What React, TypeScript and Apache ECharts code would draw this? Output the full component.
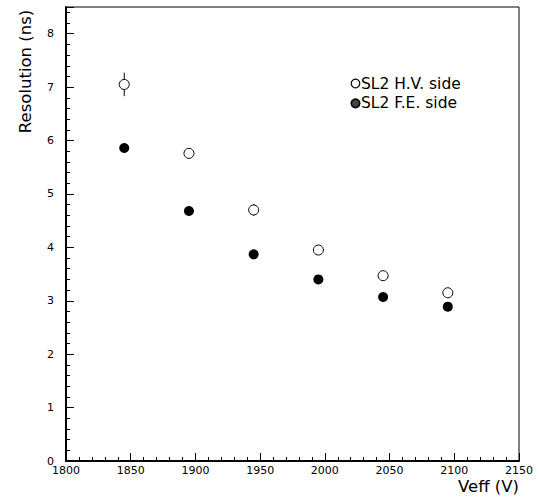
import { useEffect, useRef } from "react";
import * as echarts from "echarts";

// Effective voltage settings (V)
const voltages = [1845, 1895, 1945, 1995, 2045, 2095];
// Time resolution measured on the high-voltage side (ns) and its uncertainty
const hvResolution = [7.05, 5.76, 4.7, 3.95, 3.47, 3.15];
const hvError = [0.22, 0.06, 0.11, 0.06, 0.06, 0.06];
// Time resolution measured on the front-end side (ns)
const feResolution = [5.86, 4.68, 3.87, 3.4, 3.07, 2.89];

const seriesNames = ["SL2 H.V. side", "SL2 F.E. side"];
const xTitle = "Veff (V)";
const yTitle = "Resolution (ns)";

const FONT = "DejaVu Sans";

export default function App() {
  const ref = useRef<HTMLDivElement>(null);

  useEffect(() => {
    if (!ref.current) return;
    const chart = echarts.init(ref.current, undefined, { renderer: "svg" });

    const tickLabel = { color: "#000", fontFamily: FONT, fontSize: 11 };

    chart.setOption({
      animation: false,
      backgroundColor: "#fff",
      grid: {
        left: 66,
        right: 21,
        top: 7,
        bottom: 38,
        show: true,
        borderColor: "#000",
        borderWidth: 1,
      },
      xAxis: {
        type: "value",
        min: 1800,
        max: 2150,
        interval: 50,
        axisLine: { show: true, lineStyle: { color: "#000", width: 2 } },
        axisTick: { show: true, inside: true, length: 8, lineStyle: { color: "#000", width: 1 } },
        minorTick: { show: true, splitNumber: 5, length: 4, lineStyle: { color: "#000", width: 1 } },
        splitLine: { show: false },
        axisLabel: { ...tickLabel, margin: 4, formatter: (v: number) => String(v) },
      },
      yAxis: [
        {
          type: "value",
          min: 0,
          max: 8.5,
          interval: 1,
          axisLine: { show: true, lineStyle: { color: "#000", width: 2 } },
          axisTick: { show: true, inside: true, length: 8, lineStyle: { color: "#000", width: 1 } },
          splitLine: { show: false },
          axisLabel: {
            ...tickLabel,
            margin: 12,
            formatter: (v: number) => (Number.isInteger(v) ? String(v) : ""),
          },
        },
        {
          // fine ticks every 0.2 ns
          type: "value",
          position: "left",
          min: 0,
          max: 8.5,
          interval: 0.2,
          axisLine: { show: false },
          axisTick: { show: true, inside: true, length: 4, lineStyle: { color: "#000", width: 1 } },
          splitLine: { show: false },
          axisLabel: { show: false },
        },
      ],
      series: [
        {
          type: "custom",
          name: "errors",
          yAxisIndex: 0,
          silent: true,
          z: 1,
          data: voltages.map((v, i) => [v, hvResolution[i] - hvError[i], hvResolution[i] + hvError[i]]),
          encode: { x: 0, y: [1, 2] },
          renderItem: (_params: any, api: any) => {
            const x = api.value(0);
            const p1 = api.coord([x, api.value(1)]);
            const p2 = api.coord([x, api.value(2)]);
            return {
              type: "line",
              shape: { x1: p1[0], y1: p1[1], x2: p2[0], y2: p2[1] },
              style: { stroke: "#000", lineWidth: 1 },
            };
          },
        },
        {
          type: "scatter",
          name: seriesNames[0],
          yAxisIndex: 0,
          z: 3,
          symbol: "circle",
          symbolSize: 10,
          itemStyle: { color: "#fff", borderColor: "#000", borderWidth: 1, opacity: 1 },
          data: voltages.map((v, i) => [v, hvResolution[i]]),
        },
        {
          type: "scatter",
          name: seriesNames[1],
          yAxisIndex: 0,
          z: 3,
          symbol: "circle",
          symbolSize: 10,
          itemStyle: { color: "#000", opacity: 1 },
          data: voltages.map((v, i) => [v, feResolution[i]]),
        },
      ],
      graphic: [
        {
          type: "circle",
          shape: { cx: 355.5, cy: 83.5, r: 4.3 },
          style: { fill: "#fff", stroke: "#000", lineWidth: 1.2 },
        },
        {
          type: "text",
          x: 361,
          y: 83.5,
          style: {
            text: seriesNames[0],
            fill: "#000",
            font: `15.5px "${FONT}"`,
            align: "left",
            verticalAlign: "middle",
            textAlign: "left",
            textVerticalAlign: "middle",
          },
        },
        {
          type: "circle",
          shape: { cx: 355.5, cy: 103.3, r: 4.3 },
          style: { fill: "#444", stroke: "#000", lineWidth: 1.5 },
        },
        {
          type: "text",
          x: 361,
          y: 103.3,
          style: {
            text: seriesNames[1],
            fill: "#000",
            font: `15.5px "${FONT}"`,
            align: "left",
            verticalAlign: "middle",
            textAlign: "left",
            textVerticalAlign: "middle",
          },
        },
        {
          type: "text",
          x: 519,
          y: 486,
          style: {
            text: xTitle,
            fill: "#000",
            font: `16.5px "${FONT}"`,
            align: "right",
            verticalAlign: "middle",
            textAlign: "right",
            textVerticalAlign: "middle",
          },
        },
        {
          type: "text",
          x: 25,
          y: 71.5,
          rotation: Math.PI / 2,
          style: {
            text: yTitle,
            fill: "#000",
            font: `16.5px "${FONT}"`,
            align: "center",
            verticalAlign: "middle",
            textAlign: "center",
            textVerticalAlign: "middle",
          },
        },
      ],
    });

    return () => chart.dispose();
  }, []);

  return (
    <div
      ref={ref}
      style={{ position: "fixed", left: 0, top: 0, width: 540, height: 499 }}
    />
  );
}
